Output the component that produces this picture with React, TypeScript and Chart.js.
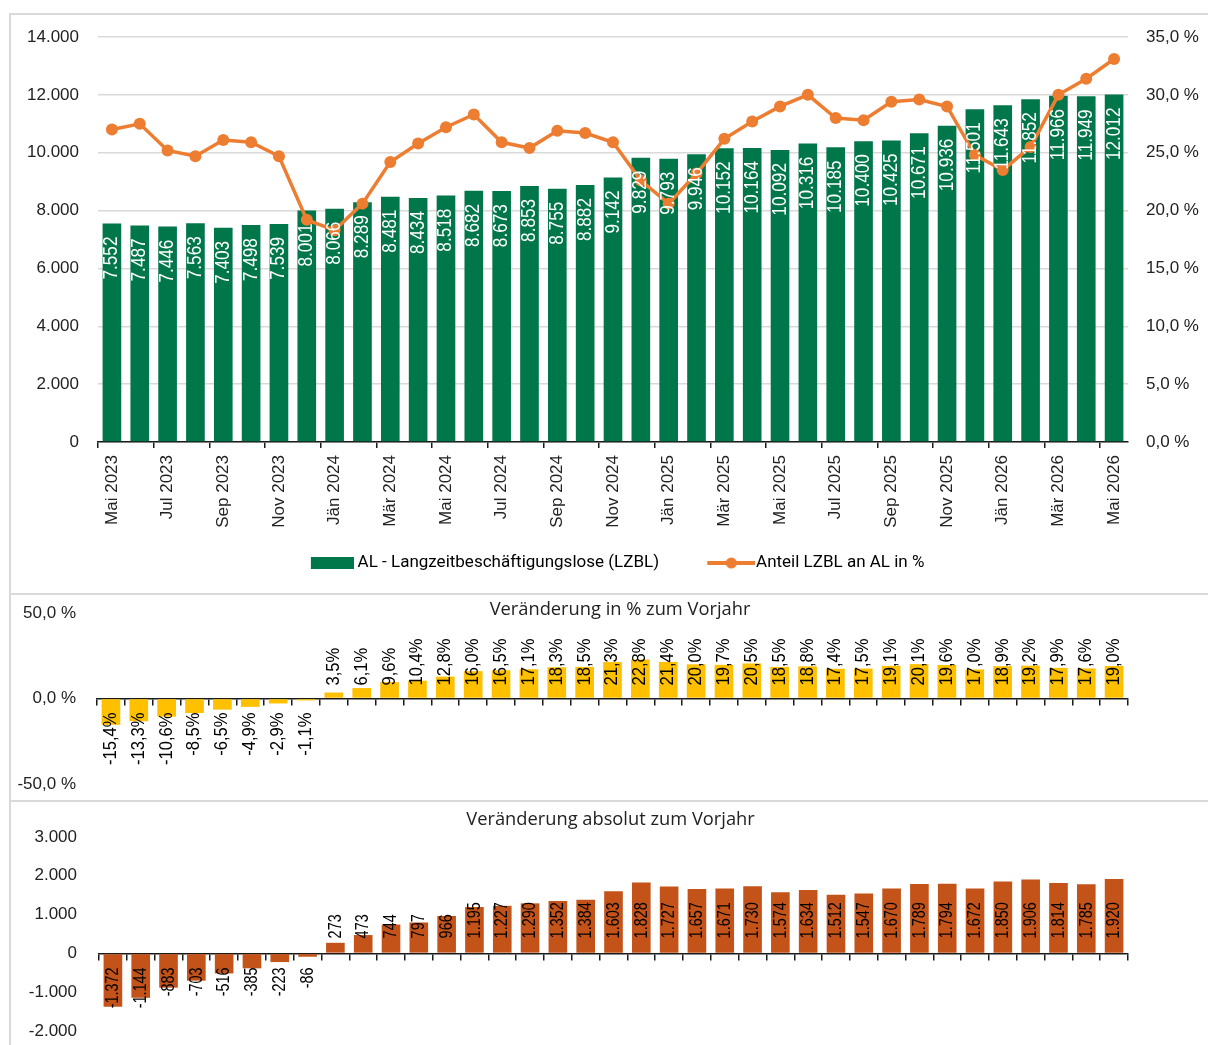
import React, { useEffect, useRef } from 'react';
import { Chart, registerables } from 'chart.js';

Chart.register(...registerables);

// ---------- data ----------
const months = [
  'Mai 2023', 'Jun 2023', 'Jul 2023', 'Aug 2023', 'Sep 2023', 'Okt 2023', 'Nov 2023', 'Dez 2023',
  'Jän 2024', 'Feb 2024', 'Mär 2024', 'Apr 2024', 'Mai 2024', 'Jun 2024', 'Jul 2024', 'Aug 2024',
  'Sep 2024', 'Okt 2024', 'Nov 2024', 'Dez 2024', 'Jän 2025', 'Feb 2025', 'Mär 2025', 'Apr 2025',
  'Mai 2025', 'Jun 2025', 'Jul 2025', 'Aug 2025', 'Sep 2025', 'Okt 2025', 'Nov 2025', 'Dez 2025',
  'Jän 2026', 'Feb 2026', 'Mär 2026', 'Apr 2026', 'Mai 2026',
];

const lzbl = [
  7552, 7487, 7446, 7563, 7403, 7498, 7539, 8001, 8066, 8289, 8481, 8434, 8518, 8682, 8673, 8853,
  8755, 8882, 9142, 9829, 9793, 9946, 10152, 10164, 10092, 10316, 10185, 10400, 10425, 10671, 10936,
  11501, 11643, 11852, 11966, 11949, 12012,
];

const shareLzbl = [
  27.0, 27.5, 25.2, 24.7, 26.1, 25.9, 24.7, 19.2, 18.3, 20.6, 24.2, 25.8, 27.2, 28.3, 25.9, 25.4,
  26.9, 26.7, 25.9, 22.6, 20.6, 23.2, 26.2, 27.7, 29.0, 30.0, 28.0, 27.8, 29.4, 29.6, 29.0, 24.8,
  23.5, 25.5, 30.0, 31.4, 33.1,
];

const pctChange = [
  -15.4, -13.3, -10.6, -8.5, -6.5, -4.9, -2.9, -1.1, 3.5, 6.1, 9.6, 10.4, 12.8, 16.0, 16.5, 17.1,
  18.3, 18.5, 21.3, 22.8, 21.4, 20.0, 19.7, 20.5, 18.5, 18.8, 17.4, 17.5, 19.1, 20.1, 19.6, 17.0,
  18.9, 19.2, 17.9, 17.6, 19.0,
];

const absChange = [
  -1372, -1144, -883, -703, -516, -385, -223, -86, 273, 473, 744, 797, 966, 1195, 1227, 1290, 1352,
  1384, 1603, 1828, 1727, 1657, 1671, 1730, 1574, 1634, 1512, 1547, 1670, 1789, 1794, 1672, 1850,
  1906, 1814, 1785, 1920,
];

const seriesBarLabel = 'AL - Langzeitbeschäftigungslose (LZBL)';
const seriesLineLabel = 'Anteil LZBL an AL in %';
const titlePct = 'Veränderung in % zum Vorjahr';
const titleAbs = 'Veränderung absolut zum Vorjahr';

// ---------- styles ----------
const GREEN = '#00774B';
const ORANGE = '#ED7D31';
const YELLOW = '#FFC000';
const BROWN = '#C4531A';
const TEXT = '#222222';
const AXIS = '#1a1a1a';
const GRID = '#d9d9d9';
const CLEAR = 'rgba(0,0,0,0)';
const SANS = '"Liberation Sans", Arial, sans-serif';

const fmtThousands = (v: number) => {
  const s = Math.abs(Math.round(v)).toString().replace(/\B(?=(\d{3})+(?!\d))/g, '.');
  return (v < 0 ? '-' : '') + s;
};
const fmtPct1 = (v: number) => v.toFixed(1).replace('.', ',');

type LabelOpts = {
  id: string;
  color: string;
  size: number;
  squeeze: number;
  mode: 'end' | 'base';
  gapPos: number;
  gapNeg: number;
  format: (v: number) => string;
};

function barLabelPlugin(o: LabelOpts) {
  return {
    id: o.id,
    afterDatasetsDraw(chart: any) {
      const meta = chart.getDatasetMeta(0);
      const data = chart.data.datasets[0].data as number[];
      const yScale = chart.scales[meta.yAxisID];
      const zeroY = yScale.getPixelForValue(0);
      const ctx = chart.ctx as CanvasRenderingContext2D;
      ctx.save();
      ctx.font = `${o.size}px ${SANS}`;
      ctx.fillStyle = o.color;
      ctx.textBaseline = 'middle';
      meta.data.forEach((el: any, i: number) => {
        const v = data[i];
        let y: number;
        let align: CanvasTextAlign;
        if (o.mode === 'end') {
          y = el.y + o.gapPos;
          align = 'right';
        } else if (v >= 0) {
          y = zeroY - o.gapPos;
          align = 'left';
        } else {
          y = zeroY + o.gapNeg;
          align = 'right';
        }
        ctx.save();
        ctx.translate(el.x, y);
        ctx.rotate(-Math.PI / 2);
        ctx.scale(o.squeeze, 1);
        ctx.textAlign = align;
        ctx.fillText(o.format(v), 0, 0);
        ctx.restore();
      });
      ctx.restore();
    },
  };
}

function titlePlugin(text: string, x: number, y: number) {
  return {
    id: 'panelTitle',
    afterDraw(chart: any) {
      const ctx = chart.ctx as CanvasRenderingContext2D;
      ctx.save();
      ctx.font = '18.3px "Open Sans", "Noto Sans", sans-serif';
      ctx.fillStyle = TEXT;
      ctx.textAlign = 'center';
      ctx.textBaseline = 'middle';
      ctx.fillText(text, x, y);
      ctx.restore();
    },
  };
}

const tickFont = { family: SANS, size: 17 };

// y axis whose labels sit `gap` px away from the plot, without inflating layout padding
const yGridNoTicks = (gap: number, showGrid: boolean) => ({
  display: true,
  drawOnChartArea: showGrid,
  color: GRID,
  lineWidth: 1.5,
  drawTicks: true,
  tickLength: gap,
  tickColor: CLEAR,
});

export default function App() {
  const c1 = useRef<HTMLCanvasElement>(null);
  const c2 = useRef<HTMLCanvasElement>(null);
  const c3 = useRef<HTMLCanvasElement>(null);

  useEffect(() => {
    const PSW = 78.5; // legend symbol slot width
    // legend symbols (drawn on the right part of each image)
    const barImg = document.createElement('canvas');
    barImg.width = 88;
    barImg.height = 12;
    const bctx = barImg.getContext('2d')!;
    bctx.fillStyle = GREEN;
    bctx.fillRect(88 - 43, 0, 43, 12);

    const lineImg = document.createElement('canvas');
    lineImg.width = 94;
    lineImg.height = 12;
    const lctx = lineImg.getContext('2d')!;
    lctx.strokeStyle = ORANGE;
    lctx.lineWidth = 4;
    lctx.beginPath();
    lctx.moveTo(94 - 48, 6);
    lctx.lineTo(94, 6);
    lctx.stroke();
    lctx.fillStyle = ORANGE;
    lctx.beginPath();
    lctx.arc(94 - 24, 6, 5.5, 0, Math.PI * 2);
    lctx.fill();

    const chart1 = new Chart(c1.current!, {
      type: 'bar',
      data: {
        labels: months,
        datasets: [
          {
            type: 'bar',
            label: seriesBarLabel,
            data: lzbl,
            backgroundColor: GREEN,
            barPercentage: 0.67,
            categoryPercentage: 1,
            yAxisID: 'y',
            order: 2,
          } as any,
          {
            type: 'line',
            label: seriesLineLabel,
            data: shareLzbl,
            yAxisID: 'y1',
            borderColor: ORANGE,
            backgroundColor: ORANGE,
            borderWidth: 3.5,
            pointRadius: 6,
            pointBackgroundColor: ORANGE,
            pointBorderColor: ORANGE,
            pointBorderWidth: 0,
            tension: 0,
            order: 1,
          } as any,
        ],
      },
      options: {
        animation: false,
        responsive: false,
        layout: { padding: { top: 22, left: 0, right: 0, bottom: 11.5 } },
        plugins: {
          tooltip: { enabled: false },
          legend: {
            position: 'bottom',
            labels: {
              usePointStyle: true,
              pointStyleWidth: PSW,
              boxHeight: 12,
              padding: 10,
              color: TEXT,
              font: { family: 'Roboto, sans-serif', size: 17 },
              generateLabels: () => [
                { text: seriesBarLabel, pointStyle: barImg, datasetIndex: 0, hidden: false, fillStyle: GREEN, strokeStyle: GREEN, lineWidth: 0 } as any,
                { text: seriesLineLabel, pointStyle: lineImg, datasetIndex: 1, hidden: false, fillStyle: ORANGE, strokeStyle: ORANGE, lineWidth: 0 } as any,
              ],
            },
          },
        },
        scales: {
          x: {
            offset: true,
            grid: {
              offset: true,
              drawOnChartArea: false,
              drawTicks: true,
              tickLength: 6,
              lineWidth: 1.5,
              color: (ctx: any) => (ctx.index % 2 === 0 ? AXIS : CLEAR),
            },
            border: { display: true, color: AXIS, width: 1.5 },
            ticks: {
              autoSkip: false,
              maxRotation: 90,
              minRotation: 90,
              padding: 7,
              color: TEXT,
              font: tickFont,
              callback: (_v: any, i: number) => (i % 2 === 0 ? months[i] : ''),
            },
            afterFit: (s: any) => {
              s.height = 102.5;
            },
          },
          y: {
            position: 'left',
            min: 0,
            max: 14000,
            ticks: { stepSize: 2000, padding: 0, color: TEXT, font: tickFont, callback: (v: any) => fmtThousands(Number(v)) },
            grid: yGridNoTicks(19, true),
            border: { display: false },
            afterFit: (s: any) => {
              s.width = 111;
            },
          },
          y1: {
            position: 'right',
            min: 0,
            max: 35,
            ticks: { stepSize: 5, padding: 0, color: TEXT, font: tickFont, callback: (v: any) => fmtPct1(Number(v)) + ' %' },
            grid: yGridNoTicks(18, false),
            border: { display: false },
            afterFit: (s: any) => {
              s.width = 80;
            },
          },
        },
      } as any,
      plugins: [
        barLabelPlugin({ id: 'lbl1', color: '#ffffff', size: 20, squeeze: 0.86, mode: 'end', gapPos: 13, gapNeg: 13, format: fmtThousands }),
      ],
    });

    const smallX = {
      position: { y: 0 },
      offset: true,
      grid: { offset: true, drawOnChartArea: false, drawTicks: true, tickLength: 6, lineWidth: 1.5, color: AXIS },
      border: { display: true, color: AXIS, width: 1.5 },
      ticks: { display: false },
    };

    const chart2 = new Chart(c2.current!, {
      type: 'bar',
      data: {
        labels: months,
        datasets: [
          {
            label: titlePct,
            data: pctChange,
            backgroundColor: YELLOW,
            barPercentage: 0.67,
            categoryPercentage: 1,
          },
        ],
      },
      options: {
        animation: false,
        responsive: false,
        layout: { padding: { top: 18, bottom: 16, left: 0, right: 80 } },
        plugins: { legend: { display: false }, tooltip: { enabled: false } },
        scales: {
          x: smallX,
          y: {
            min: -50,
            max: 50,
            ticks: { stepSize: 50, padding: 0, color: TEXT, font: tickFont, callback: (v: any) => fmtPct1(Number(v)) + ' %' },
            grid: yGridNoTicks(21, false),
            border: { display: false },
            afterFit: (s: any) => {
              s.width = 86;
            },
          },
        },
      } as any,
      plugins: [
        barLabelPlugin({ id: 'lbl2', color: '#000000', size: 18, squeeze: 0.92, mode: 'base', gapPos: 13, gapNeg: 14, format: (v) => fmtPct1(v) + '%' }),
        titlePlugin(titlePct, 609, 15),
      ],
    });

    const chart3 = new Chart(c3.current!, {
      type: 'bar',
      data: {
        labels: months,
        datasets: [
          {
            label: titleAbs,
            data: absChange,
            backgroundColor: BROWN,
            barPercentage: 0.67,
            categoryPercentage: 1,
          },
        ],
      },
      options: {
        animation: false,
        responsive: false,
        layout: { padding: { top: 35, bottom: 14, left: 0, right: 80 } },
        plugins: { legend: { display: false }, tooltip: { enabled: false } },
        scales: {
          x: smallX,
          y: {
            min: -2000,
            max: 3000,
            ticks: { stepSize: 1000, padding: 0, color: TEXT, font: tickFont, callback: (v: any) => fmtThousands(Number(v)) },
            grid: yGridNoTicks(22, false),
            border: { display: false },
            afterFit: (s: any) => {
              s.width = 88;
            },
          },
        },
      } as any,
      plugins: [
        barLabelPlugin({ id: 'lbl3', color: '#000000', size: 19, squeeze: 0.76, mode: 'base', gapPos: 15, gapNeg: 14, format: fmtThousands }),
        titlePlugin(titleAbs, 599.5, 18),
      ],
    });

    return () => {
      chart1.destroy();
      chart2.destroy();
      chart3.destroy();
    };
  }, []);

  const box = (top: number, height: number): React.CSSProperties => ({
    position: 'absolute',
    left: 9,
    top,
    width: 1300,
    height,
    borderTop: `2px solid ${GRID}`,
    borderLeft: `2px solid ${GRID}`,
    boxSizing: 'border-box',
  });

  return (
    <div style={{ position: 'absolute', left: 0, top: 0, width: 1208, height: 1045, overflow: 'hidden', background: '#ffffff' }}>
      <div style={box(13, 580)}>
        <canvas ref={c1} width={1221} height={578} style={{ position: 'absolute', left: -24, top: 0, width: 1221, height: 578 }} />
      </div>
      <div style={box(593, 207)}>
        <canvas ref={c2} width={1197} height={205} style={{ position: 'absolute', left: 0, top: 0, width: 1197, height: 205 }} />
      </div>
      <div style={box(800, 300)}>
        <canvas ref={c3} width={1197} height={243} style={{ position: 'absolute', left: 0, top: 0, width: 1197, height: 243 }} />
      </div>
    </div>
  );
}
